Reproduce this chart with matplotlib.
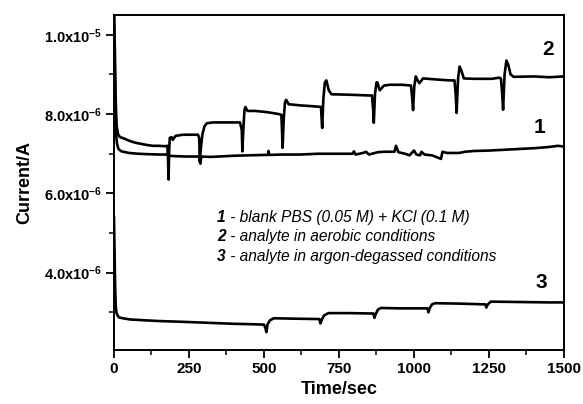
import matplotlib
matplotlib.use('Agg')
import matplotlib.pyplot as plt
from matplotlib.ticker import MultipleLocator

plt.rcParams['font.family'] = ['Liberation Sans', 'DejaVu Sans']
plt.rcParams['mathtext.fontset'] = 'custom'
plt.rcParams['mathtext.rm'] = 'Liberation Sans:bold'
plt.rcParams['mathtext.bf'] = 'Liberation Sans:bold'
plt.rcParams['mathtext.it'] = 'Liberation Sans:bold:italic'

# curve 1 - blank PBS + KCl (current in uA)
t1 = [0, 3, 6, 10, 15, 25, 50, 80, 110, 150, 175, 185, 200, 240, 285, 288, 291, 320, 350, 400,
      450, 500, 513, 515, 518, 560, 620, 680, 750, 795, 800, 805, 830, 840, 850, 880, 900, 935,
      940, 948, 970, 985, 1000, 1008, 1020, 1025, 1035, 1060, 1080, 1090, 1095, 1110, 1150,
      1170, 1200, 1250, 1300, 1350, 1400, 1450, 1480, 1500]
i1 = [10.6, 8.8, 7.6, 7.25, 7.12, 7.06, 7.02, 7.0, 6.99, 6.98, 6.98, 6.95, 6.94, 6.93, 6.93, 6.75,
      6.93, 6.92, 6.93, 6.95, 6.96, 6.97, 6.97, 7.07, 6.97, 6.98, 6.98, 7.0, 7.0, 7.0, 7.06, 6.98,
      7.02, 7.05, 6.98, 7.04, 7.05, 7.05, 7.2, 7.04, 7.0, 6.96, 7.08, 6.98, 6.96, 7.05, 6.98,
      6.96, 6.9, 6.87, 7.05, 7.02, 7.02, 7.05, 7.07, 7.08, 7.1, 7.12, 7.14, 7.17, 7.2, 7.18]

# curve 2 - analyte, aerobic
t2 = [0, 3, 6, 9, 13, 20, 35, 50, 70, 90, 110, 130, 150, 170, 178,
      180, 182, 184, 186, 192, 196, 205, 230, 260, 280,
      284, 286, 289, 295, 302, 310, 330, 380, 420,
      426, 428, 431, 435, 438, 445, 470, 510, 550, 558,
      560, 562, 566, 570, 574, 582, 620, 660, 690,
      692, 694, 698, 703, 708, 716, 725, 780, 850, 860,
      864, 866, 870, 875, 878, 886, 900, 920, 960, 990,
      994, 997, 1001, 1006, 1012, 1018, 1030, 1080, 1120, 1135,
      1139, 1142, 1147, 1152, 1158, 1166, 1200, 1260, 1285, 1290,
      1294, 1297, 1302, 1308, 1314, 1322, 1332, 1400, 1450, 1500]
i2 = [10.6, 9.6, 8.3, 7.7, 7.5, 7.42, 7.38, 7.33, 7.28, 7.25, 7.22, 7.2, 7.2, 7.19, 7.2,
      6.9, 6.35, 7.1, 7.4, 7.42, 7.35, 7.45, 7.48, 7.48, 7.48,
      7.4, 6.8, 7.1, 7.5, 7.7, 7.77, 7.79, 7.79, 7.79,
      7.6, 7.06, 7.6, 8.1, 8.18, 8.08, 8.08, 8.05, 8.0, 7.98,
      7.6, 7.15, 7.9, 8.3, 8.36, 8.25, 8.22, 8.2, 8.18,
      7.9, 7.65, 8.4, 8.8, 8.85, 8.6, 8.5, 8.49, 8.47, 8.47,
      8.1, 7.78, 8.5, 8.8, 8.8, 8.6, 8.72, 8.74, 8.74, 8.72,
      8.4, 8.1, 8.7, 8.95, 8.85, 8.78, 8.9, 8.87, 8.85, 8.85,
      8.5, 8.03, 8.9, 9.2, 9.1, 8.9, 8.89, 8.89, 8.92, 8.89,
      8.5, 8.11, 9.0, 9.35, 9.25, 9.0, 8.94, 8.95, 8.93, 8.95]

# curve 3 - analyte, argon-degassed
t3 = [0, 2, 4, 6, 8, 12, 17, 30, 53, 100, 150, 230, 300, 400, 460, 500,
      505, 508, 512, 520, 533, 600, 685, 688, 692, 700, 715, 780, 865,
      868, 872, 880, 890, 950, 1045, 1048, 1052, 1060, 1070, 1150, 1238,
      1241, 1246, 1256, 1350, 1450, 1500]
i3 = [5.4, 4.5, 3.6, 3.15, 3.0, 2.92, 2.87, 2.85, 2.82, 2.8, 2.78, 2.76, 2.74, 2.71, 2.7, 2.69,
      2.6, 2.5, 2.7, 2.8, 2.85, 2.84, 2.83, 2.72, 2.8, 2.92, 2.98, 2.98, 2.97,
      2.86, 2.95, 3.07, 3.11, 3.1, 3.1, 3.0, 3.1, 3.2, 3.23, 3.22, 3.2,
      3.12, 3.2, 3.27, 3.26, 3.25, 3.25]

ytick_vals = [4e-6, 6e-6, 8e-6, 1e-5]
ytick_labels = [r'$\mathbf{4.0x10^{-6}}$', r'$\mathbf{6.0x10^{-6}}$',
                r'$\mathbf{8.0x10^{-6}}$', r'$\mathbf{1.0x10^{-5}}$']

fig = plt.figure(figsize=(5.83, 4.04), dpi=100)
ax = fig.add_axes([0.1955, 0.1337, 0.7719, 0.8292])

for t, i in [(t1, i1), (t2, i2), (t3, i3)]:
    ax.plot(t, [v * 1e-6 for v in i], color='black', lw=1.9)

ax.set_xlim(0, 1500)
ax.set_ylim(2.05e-6, 1.05e-5)
ax.xaxis.set_major_locator(MultipleLocator(250))
ax.xaxis.set_minor_locator(MultipleLocator(125))
ax.set_yticks(ytick_vals)
ax.set_yticklabels(ytick_labels)
ax.yaxis.set_minor_locator(MultipleLocator(1e-6))
ax.tick_params(which='major', direction='out', length=6, width=1.3, labelsize=10.5, pad=2.5)
ax.tick_params(which='minor', direction='out', length=3.5, width=1.1)
for lab in ax.get_xticklabels():
    lab.set_fontweight('bold')
    lab.set_fontsize(11)
for sp in ax.spines.values():
    sp.set_linewidth(1.4)

ax.set_xlabel('Time/sec', fontsize=13, fontweight='bold')
ax.set_ylabel('Current/A', fontsize=13, fontweight='bold', labelpad=8)

# curve labels
ax.text(1447, 9.62e-6, '2', fontsize=15, fontweight='bold', ha='center', va='center')
ax.text(1420, 7.66e-6, '1', fontsize=15, fontweight='bold', ha='center', va='center')
ax.text(1423, 3.76e-6, '3', fontsize=15, fontweight='bold', ha='center', va='center')

notes = [('1', ' - blank PBS (0.05 M) + KCl (0.1 M)', 5.40e-6),
         ('2', ' - analyte in aerobic conditions', 4.92e-6),
         ('3', ' - analyte in argon-degassed conditions', 4.415e-6)]
for num, txt, yv in notes:
    ax.text(344, yv, num, fontsize=11.2, fontweight='bold', style='italic', va='center')
    ax.annotate(txt, xy=(344, yv), xytext=(6, 0), textcoords='offset points',
                fontsize=11.2, style='italic', va='center')

fig.savefig('out.png', dpi=100)
